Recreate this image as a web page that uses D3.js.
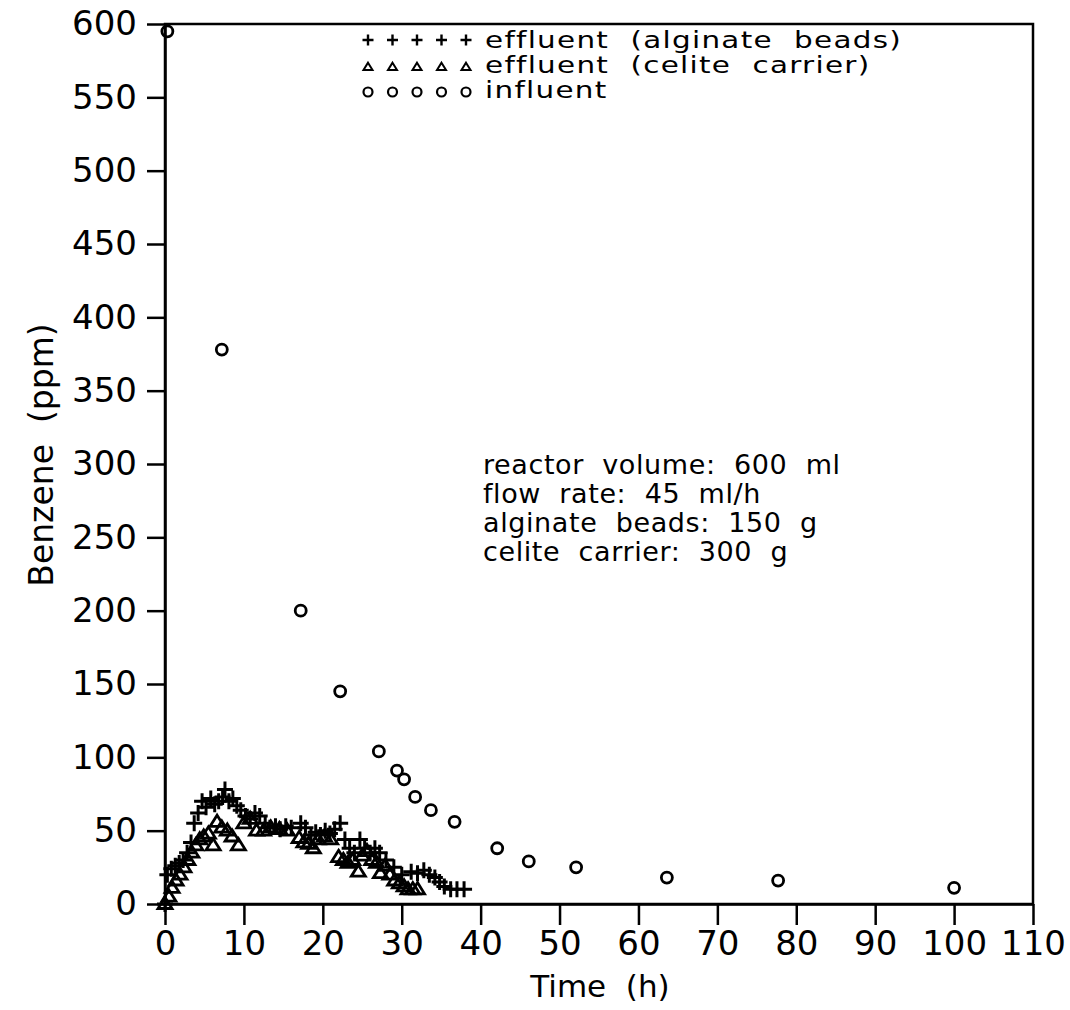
<!DOCTYPE html>
<html>
<head>
  <meta charset="utf-8">
  <title>Benzene vs time</title>
  <style>
    body { margin: 0; background: #fff; }
    svg text { font-family: "DejaVu Sans", sans-serif; fill: #000; }
  </style>
</head>
<body>
  <svg id="chart" width="1070" height="1010"></svg>

  <script src="https://d3js.org/d3.v7.min.js"></script>
  <script>
    // data: [time (h), benzene (ppm)]
    const alginateBeads = [
      [0, 0], [0.3, 20], [0.8, 24], [1.3, 26], [1.8, 28], [2.3, 30], [2.8, 35], [3.3, 42],
      [3.7, 55], [4.2, 62], [4.7, 70], [5.2, 66], [5.8, 72], [6.3, 68], [6.8, 70], [7.3, 73],
      [7.6, 78], [8.1, 70], [8.6, 72], [9.1, 67], [9.6, 64], [10.2, 60], [10.8, 58], [11.4, 62],
      [12.0, 60], [12.7, 55], [13.3, 52], [14.0, 53], [14.6, 51], [15.3, 53], [16.0, 52],
      [17.2, 55], [17.8, 52], [18.5, 47], [19.1, 49], [19.7, 47], [20.3, 50], [20.9, 48],
      [21.5, 51], [22.2, 55], [22.8, 44], [23.4, 38], [24.0, 35], [24.7, 44], [25.3, 38],
      [26.0, 35], [26.6, 38], [27.2, 35], [28.0, 30], [29.0, 25], [30.0, 20], [31.2, 22],
      [32.0, 21], [32.8, 23], [33.5, 20], [34.2, 18], [34.8, 15], [35.4, 12], [36.2, 10],
      [37.0, 10], [37.9, 10]
    ];
    const celiteCarrier = [
      [0, 0], [0.5, 5], [0.9, 11], [1.4, 16], [1.9, 20], [2.4, 25], [2.9, 30], [3.4, 35],
      [3.9, 40], [4.4, 44], [4.9, 46], [5.5, 48], [6.1, 40], [6.6, 56], [7.2, 52], [7.9, 50],
      [8.5, 46], [9.3, 40], [10.0, 55], [10.8, 58], [11.6, 50], [12.5, 50], [13.4, 52],
      [14.5, 51], [15.5, 50], [17.0, 45], [17.6, 42], [18.2, 41], [18.8, 38], [19.4, 44],
      [20.2, 46], [21.0, 44], [22.0, 32], [22.6, 30], [23.2, 28], [23.8, 30], [24.5, 22],
      [25.0, 33], [25.6, 36], [26.2, 30], [26.8, 28], [27.3, 21], [27.9, 26], [28.5, 20],
      [29.1, 16], [29.7, 14], [30.3, 12], [30.8, 10], [31.4, 10], [32.0, 10]
    ];
    const influent = [
      [0.3, 595], [7.2, 378], [17.2, 200], [22.2, 145], [27.1, 104], [29.4, 91], [30.3, 85],
      [31.7, 73], [33.7, 64], [36.7, 56], [42.1, 38], [46.1, 29], [52.1, 25], [63.6, 18],
      [77.7, 16], [100, 11]
    ];

    const xTicks = d3.range(0, 111, 10);
    const yTicks = d3.range(0, 601, 50);

    const legendLabels = ["effluent  (alginate  beads)", "effluent  (celite  carrier)", "influent"];
    const noteLines = ["reactor  volume:  600  ml", "flow  rate:  45  ml/h",
                       "alginate  beads:  150  g", "celite  carrier:  300  g"];

    const svg = d3.select("#chart");
    const plotLeft = 165, plotRight = 1033, plotTop = 24, plotBottom = 904;

    const x = d3.scaleLinear().domain([0, 110]).range([plotLeft, plotRight]);
    const y = d3.scaleLinear().domain([0, 600]).range([plotBottom, plotTop]);

    // frame
    svg.append("rect")
      .attr("x", plotLeft).attr("y", plotTop)
      .attr("width", plotRight - plotLeft).attr("height", plotBottom - plotTop)
      .attr("fill", "none").attr("stroke", "#000").attr("stroke-width", 2.5);

    // axes
    const gx = svg.append("g")
      .attr("transform", `translate(0,${plotBottom})`)
      .call(d3.axisBottom(x).tickValues(xTicks).tickSize(21).tickPadding(6).tickSizeOuter(0));
    gx.select(".domain").attr("stroke-width", 2.5);
    gx.selectAll(".tick line").attr("stroke-width", 2.5);
    gx.selectAll(".tick text").attr("font-size", 34).attr("font-family", "DejaVu Sans");

    const gy = svg.append("g")
      .attr("transform", `translate(${plotLeft},0)`)
      .call(d3.axisLeft(y).tickValues(yTicks).tickSize(18).tickPadding(10).tickSizeOuter(0));
    gy.select(".domain").attr("stroke-width", 2.5);
    gy.selectAll(".tick line").attr("stroke-width", 2.5);
    gy.selectAll(".tick text").attr("font-size", 34).attr("font-family", "DejaVu Sans");

    // axis titles
    svg.append("text")
      .attr("x", 600).attr("y", 997)
      .attr("text-anchor", "middle").attr("font-size", 31)
      .style("white-space", "pre")
      .text("Time  (h)");

    svg.append("text")
      .attr("transform", "translate(53,455) rotate(-90)")
      .attr("text-anchor", "middle").attr("font-size", 33)
      .style("white-space", "pre")
      .text("Benzene  (ppm)");

    // marker shapes
    function plusPath(s) {
      return `M${-s},0H${s}M0,${-s}V${s}`;
    }
    function triPath(s) {
      const h = s * 1.6;
      return `M0,${-h * 0.6}L${s},${h * 0.4}L${-s},${h * 0.4}Z`;
    }

    const marks = svg.append("g");

    marks.selectAll(".bead").data(alginateBeads).join("path")
      .attr("class", "bead")
      .attr("transform", d => `translate(${x(d[0])},${y(d[1])})`)
      .attr("d", plusPath(8))
      .attr("fill", "none").attr("stroke", "#000").attr("stroke-width", 3);

    marks.selectAll(".celite").data(celiteCarrier).join("path")
      .attr("class", "celite")
      .attr("transform", d => `translate(${x(d[0])},${y(d[1])})`)
      .attr("d", triPath(7))
      .attr("fill", "none").attr("stroke", "#000").attr("stroke-width", 2.8);

    marks.selectAll(".influent").data(influent).join("circle")
      .attr("class", "influent")
      .attr("cx", d => x(d[0])).attr("cy", d => y(d[1]))
      .attr("r", 5.5)
      .attr("fill", "none").attr("stroke", "#000").attr("stroke-width", 2.8);

    // legend
    const legend = svg.append("g").attr("transform", "translate(362,0)");
    const legendY = [48, 73, 98];
    legendLabels.forEach((label, i) => {
      const row = legend.append("g").attr("transform", `translate(0,${legendY[i]})`);
      for (let k = 0; k < 5; k++) {
        const cx = 6 + k * 24.5;
        if (i === 0) {
          row.append("path").attr("transform", `translate(${cx},-8)`)
            .attr("d", plusPath(5.5)).attr("stroke", "#000").attr("stroke-width", 2.4).attr("fill", "none");
        } else if (i === 1) {
          row.append("path").attr("transform", `translate(${cx},-6)`)
            .attr("d", triPath(4.5)).attr("stroke", "#000").attr("stroke-width", 2).attr("fill", "none");
        } else {
          row.append("circle").attr("cx", cx).attr("cy", -6).attr("r", 4.5)
            .attr("stroke", "#000").attr("stroke-width", 2.2).attr("fill", "none");
        }
      }
      row.append("text")
        .attr("transform", "translate(123,0) scale(1.28,1)")
        .attr("font-size", 23)
        .attr("letter-spacing", 1)
        .style("white-space", "pre")
        .text(label);
    });

    // run conditions
    const note = svg.append("g").attr("transform", "translate(483,0)");
    note.selectAll("text").data(noteLines).join("text")
      .attr("x", 0).attr("y", (d, i) => 474 + i * 29)
      .attr("font-size", 27)
      .attr("letter-spacing", 0.6)
      .style("white-space", "pre")
      .text(d => d);
  </script>
</body>
</html>
